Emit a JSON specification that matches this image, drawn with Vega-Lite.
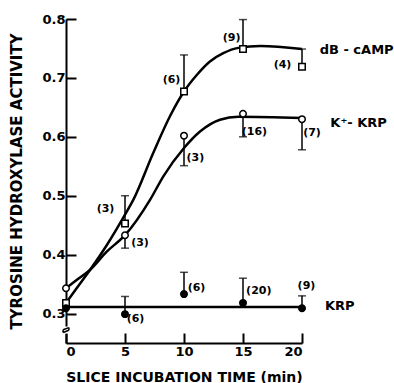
{
  "$schema": "https://vega.github.io/schema/vega-lite/v6.json",
  "width": 236,
  "height": 324,
  "autosize": {"type": "none"},
  "padding": {"left": 66, "top": 19, "right": 92, "bottom": 40},
  "background": "white",
  "datasets": {
    "curves": [
      {"s": "dB-cAMP", "t": 0, "v": 0.318}, {"s": "dB-cAMP", "t": 0.9, "v": 0.343}, {"s": "dB-cAMP", "t": 2.03, "v": 0.374},
      {"s": "dB-cAMP", "t": 3.45, "v": 0.416}, {"s": "dB-cAMP", "t": 5, "v": 0.468}, {"s": "dB-cAMP", "t": 5.7, "v": 0.493},
      {"s": "dB-cAMP", "t": 7.4, "v": 0.573}, {"s": "dB-cAMP", "t": 8.81, "v": 0.635}, {"s": "dB-cAMP", "t": 10, "v": 0.677},
      {"s": "dB-cAMP", "t": 11.08, "v": 0.705}, {"s": "dB-cAMP", "t": 12.2, "v": 0.728}, {"s": "dB-cAMP", "t": 13.33, "v": 0.742},
      {"s": "dB-cAMP", "t": 14.6, "v": 0.751}, {"s": "dB-cAMP", "t": 16.5, "v": 0.754}, {"s": "dB-cAMP", "t": 20, "v": 0.749},
      {"s": "K-KRP", "t": 0, "v": 0.343}, {"s": "K-KRP", "t": 0.9, "v": 0.357}, {"s": "K-KRP", "t": 2.03, "v": 0.374},
      {"s": "K-KRP", "t": 3.45, "v": 0.405}, {"s": "K-KRP", "t": 5, "v": 0.433}, {"s": "K-KRP", "t": 7.12, "v": 0.493},
      {"s": "K-KRP", "t": 8.25, "v": 0.533}, {"s": "K-KRP", "t": 10, "v": 0.581}, {"s": "K-KRP", "t": 11.36, "v": 0.609},
      {"s": "K-KRP", "t": 13.05, "v": 0.629}, {"s": "K-KRP", "t": 14.6, "v": 0.634}, {"s": "K-KRP", "t": 20, "v": 0.632},
      {"s": "KRP", "t": 0, "v": 0.311}, {"s": "KRP", "t": 20, "v": 0.311}
    ],
    "obs": [
      {"s": "dB-cAMP", "t": 0, "v": 0.318},
      {"s": "dB-cAMP", "t": 5, "v": 0.453, "e": 0.5},
      {"s": "dB-cAMP", "t": 10, "v": 0.677, "e": 0.739},
      {"s": "dB-cAMP", "t": 15, "v": 0.749, "e": 0.799},
      {"s": "dB-cAMP", "t": 20, "v": 0.719, "e": 0.749},
      {"s": "K-KRP", "t": 0, "v": 0.343},
      {"s": "K-KRP", "t": 5, "v": 0.433, "e": 0.411},
      {"s": "K-KRP", "t": 10, "v": 0.602, "e": 0.551},
      {"s": "K-KRP", "t": 15, "v": 0.639, "e": 0.6},
      {"s": "K-KRP", "t": 20, "v": 0.63, "e": 0.578},
      {"s": "KRP", "t": 0, "v": 0.309},
      {"s": "KRP", "t": 5, "v": 0.299, "e": 0.329},
      {"s": "KRP", "t": 10, "v": 0.333, "e": 0.37},
      {"s": "KRP", "t": 15, "v": 0.318, "e": 0.36},
      {"s": "KRP", "t": 20, "v": 0.309, "e": 0.33}
    ],
    "nlabels": [
      {"t": 3.35, "v": 0.477, "lab": "(3)"},
      {"t": 8.94, "v": 0.697, "lab": "(6)"},
      {"t": 14.03, "v": 0.768, "lab": "(9)"},
      {"t": 18.35, "v": 0.722, "lab": "(4)"},
      {"t": 6.27, "v": 0.42, "lab": "(3)"},
      {"t": 10.96, "v": 0.564, "lab": "(3)"},
      {"t": 15.97, "v": 0.609, "lab": "(16)"},
      {"t": 20.85, "v": 0.606, "lab": "(7)"},
      {"t": 5.89, "v": 0.29, "lab": "(6)"},
      {"t": 11.06, "v": 0.343, "lab": "(6)"},
      {"t": 16.34, "v": 0.339, "lab": "(20)"},
      {"t": 20.38, "v": 0.347, "lab": "(9)"}
    ],
    "slabels": [
      {"t": 21.5, "v": 0.748, "lab": "dB - cAMP"},
      {"t": 22.4, "v": 0.624, "lab": "K⁺- KRP"},
      {"t": 21.95, "v": 0.313, "lab": "KRP"}
    ]
  },
  "layer": [
    {
      "data": {"name": "curves"},
      "mark": {"type": "line", "interpolate": "monotone", "color": "black", "strokeWidth": 2.5},
      "encoding": {
        "x": {
          "field": "t", "type": "quantitative",
          "scale": {"domain": [0, 20], "nice": false, "zero": false},
          "axis": {
            "values": [0, 5, 10, 15, 20],
            "title": "SLICE INCUBATION TIME (min)",
            "grid": false
          }
        },
        "y": {
          "field": "v", "type": "quantitative",
          "scale": {"domain": [0.25, 0.8], "nice": false, "zero": false},
          "axis": {
            "values": [0.3, 0.4, 0.5, 0.6, 0.7, 0.8],
            "format": ".1f",
            "title": "TYROSINE HYDROXYLASE ACTIVITY",
            "grid": false
          }
        },
        "detail": {"field": "s"}
      }
    },
    {
      "data": {"name": "obs"},
      "transform": [{"filter": "isValid(datum.e)"}],
      "mark": {"type": "rule", "color": "black", "strokeWidth": 1.5},
      "encoding": {
        "x": {"field": "t", "type": "quantitative"},
        "y": {"field": "v", "type": "quantitative"},
        "y2": {"field": "e"}
      }
    },
    {
      "data": {"name": "obs"},
      "transform": [{"filter": "isValid(datum.e)"}],
      "mark": {"type": "tick", "orient": "horizontal", "color": "black", "size": 8, "thickness": 1.5},
      "encoding": {
        "x": {"field": "t", "type": "quantitative"},
        "y": {"field": "e", "type": "quantitative"}
      }
    },
    {
      "data": {"name": "obs"},
      "mark": {"type": "point", "filled": false, "stroke": "black", "strokeWidth": 1.5, "opacity": 1, "size": 42},
      "encoding": {
        "x": {"field": "t", "type": "quantitative"},
        "y": {"field": "v", "type": "quantitative"},
        "shape": {"field": "s", "type": "nominal", "scale": {"domain": ["dB-cAMP", "K-KRP", "KRP"], "range": ["square", "circle", "circle"]}, "legend": null},
        "fill": {"field": "s", "type": "nominal", "scale": {"domain": ["dB-cAMP", "K-KRP", "KRP"], "range": ["white", "white", "black"]}, "legend": null}
      }
    },
    {
      "data": {"values": [{}]},
      "mark": {"type": "point", "shape": "square", "filled": true, "color": "white", "opacity": 1, "size": 50},
      "encoding": {"x": {"datum": 0}, "y": {"datum": 0.272}}
    },
    {
      "data": {"values": [{}]},
      "mark": {"type": "point", "shape": "M -1 -0.1 L 1 -0.9 M -1 0.9 L 1 0.1 M -1 -0.1 Q -1.2 0.4 -1 0.9 M 1 -0.9 Q 1.2 -0.4 1 0.1", "filled": false, "stroke": "black", "strokeWidth": 1.5, "opacity": 1, "size": 30},
      "encoding": {"x": {"datum": 0}, "y": {"datum": 0.272}}
    },
    {
      "data": {"name": "nlabels"},
      "mark": {"type": "text", "font": "DejaVu Sans", "fontWeight": "bold", "fontSize": 11, "align": "center", "baseline": "middle", "color": "black"},
      "encoding": {
        "x": {"field": "t", "type": "quantitative"},
        "y": {"field": "v", "type": "quantitative"},
        "text": {"field": "lab"}
      }
    },
    {
      "data": {"name": "slabels"},
      "mark": {"type": "text", "font": "DejaVu Sans", "fontWeight": "bold", "fontSize": 13, "align": "left", "baseline": "middle", "color": "black"},
      "encoding": {
        "x": {"field": "t", "type": "quantitative"},
        "y": {"field": "v", "type": "quantitative"},
        "text": {"field": "lab"}
      }
    }
  ],
  "config": {
    "view": {"stroke": null},
    "axis": {
      "domainColor": "black",
      "domainWidth": 2,
      "tickColor": "black",
      "tickWidth": 2,
      "tickSize": -10,
      "labelFont": "DejaVu Sans",
      "labelFontWeight": "bold",
      "labelFontSize": 13,
      "labelColor": "black",
      "titleFont": "DejaVu Sans",
      "titleFontWeight": "bold",
      "titleColor": "black"
    },
    "axisX": {"labelPadding": 12, "titleFontSize": 14, "titlePadding": 12},
    "axisY": {"labelPadding": 11, "titleFontSize": 15, "titlePadding": 17}
  }
}
